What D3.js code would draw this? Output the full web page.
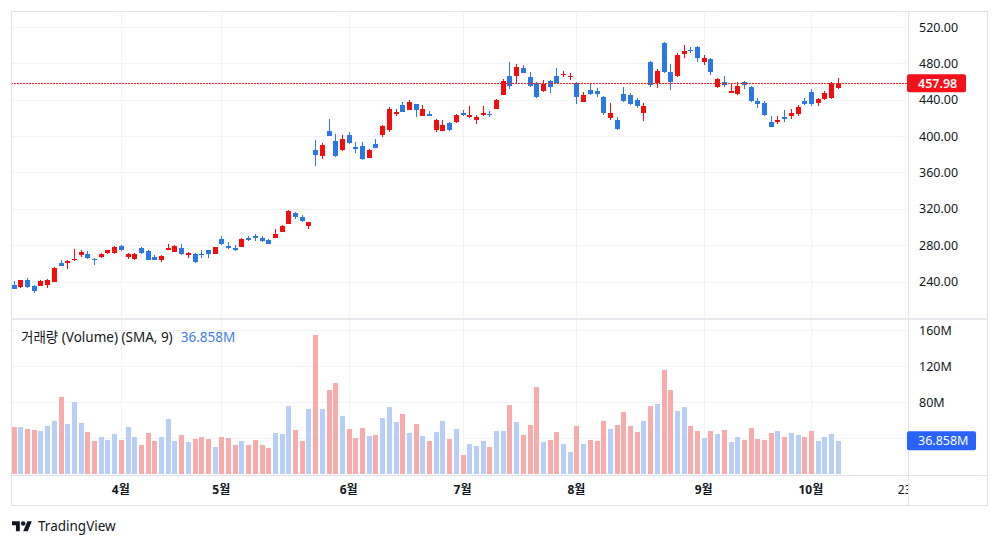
<!DOCTYPE html>
<html><head><meta charset="utf-8">
<script src="https://cdn.jsdelivr.net/npm/d3@7"></script>
<style>
html,body{margin:0;padding:0;background:#fff;}
svg{display:block;font-family:"Noto Sans","Noto Sans CJK KR",sans-serif;}
</style></head>
<body>
<svg id="chart" width="1000" height="545"></svg>
<script>
const opens  = [236.5,234,241.3,234.7,234.7,236.5,239.4,260,261.2,263.3,269.6,270.7,265,267,271.4,271.4,279.5,267,264.8,277.3,273.6,267,263.3,275,272.8,276.5,269.6,270.7,270.7,274.3,270.7,286.8,278.7,277.3,278,288.3,290.5,288.3,286,287.9,294.5,303.7,315.4,311,300.7,
385.1,377.8,405.7,394.7,384.4,400.9,388.1,388.8,376.3,391,401.7,406.4,424.8,434,429.2,435.1,421.9,424,407.2,405.7,414.5,415.6,425.5,421.1,417.5,423,424.8,430.3,445.1,466,466,474.5,464.6,458.7,449.9,460.9,466,466.8,464.6,458.7,437.8,450.6,449.9,443.3,419.4,417.6,
446.2,445.1,439.6,425.6,481.8,458.7,502.8,470.8,466,490.3,494.7,498.4,481.8,484.4,454.3,459.8,446.9,446.2,459.8,454.3,438.9,435.9,415.7,415.7,420.5,422,424.2,438.9,448.8,436.7,440.3,441.4,452.5];
const highs  = [240.5,242,244.2,235.8,241.3,242.8,256,263.3,264.2,275.4,275,273.2,265.5,271.4,275,278.7,280.6,271.4,271.4,278,274.3,268.8,268.8,280.9,280.2,280.9,272.5,271.4,274.3,275,278,289.7,283.5,280,287.5,289.7,292,289.7,286.8,298.2,301.8,318.4,316.2,312.9,305.8,
395.4,392.5,419.3,402.8,400.9,404.6,393.6,393.6,386.2,396.5,412.7,432.1,430.3,437.7,439.5,435.8,434,427.7,419.3,417.5,415.6,424.8,429.2,432.9,422.9,432.9,427.4,440.5,462.4,481.8,479.3,478.2,470.8,459.8,461.6,461.6,474.5,471.9,469,459.8,448.8,458,452.4,444,435.9,421.2,
453.6,447.7,441.4,435.9,482.9,473.4,503.9,479.3,491.8,500.2,497.6,499.1,489.2,485.5,463.5,466,458.7,459.8,460.5,455,441.4,438.9,421.9,421.9,428.6,429.3,434.1,441.4,451.4,441.4,449.9,459.8,463.5];
const lows   = [231.4,233.3,233.3,227.8,234.7,233.3,239.4,256.7,254.3,262.5,267,265.1,258.5,266.2,270.7,270.7,273.2,265.1,264,270.7,263.3,263.3,261.5,274.3,272,268.8,266.2,260.4,266.2,266.2,270.7,280.6,275.3,274,278,284.6,284.6,283.5,280.9,287.9,294.1,303,309.2,305.5,298.2,
366.8,375.2,399.8,377,383.7,391.8,381.5,374.1,376.3,386.6,399.1,405,422.2,426.6,428.5,421.1,421.9,421.9,404.6,405.7,405.7,414.5,422.2,420.3,413.8,421.9,421.1,429.9,445.1,451.4,458,469,453.6,441.4,448.8,446.9,458,464.6,461.6,435.2,437.8,445.1,443.3,423.1,417.8,406.5,
437.8,434.1,430.4,416.8,454.3,452.5,469.7,450.6,464.6,485.5,491,481.8,478.2,467.1,452.5,453.6,446.9,445.1,451.4,437.8,430.4,421.9,409.5,413.1,415.7,418.3,422,434.1,433,433,439.2,440.3,451.4];
const closes = [232.1,241.3,234,229.2,240.5,242,254.9,256.7,262.2,265.1,272.5,266.2,263.5,269.9,274.3,278,274.3,270,270.7,271.4,264,264,267.7,277.3,279.5,269.9,271.4,261.1,269.6,270.7,277.6,280.9,277.2,275,286.8,285.4,287.5,284.6,281.6,292.7,301.1,317.3,311,306.6,305.1,
378.9,389.9,399.8,377.8,397.3,392.5,385.9,374.9,385.1,387.3,410.9,430.3,426.3,426.6,437.7,429.2,430.3,421.9,418.2,412,407.2,423,423,423,421.1,425.5,423.3,439.5,460.5,455,475.6,469.7,455,442.5,457.2,454.3,458.7,468.2,466,443.3,445.1,446.2,446.2,425.6,424.9,407.3,
438.9,435.2,433,433,456.1,471.9,470.8,459.8,489.2,494,493.2,485.5,485.5,470.8,462.4,456.1,449.5,455,456.1,438.9,435.2,423,410.2,417.6,419,425.6,432.3,435.2,435.2,440.3,447.7,458.7,457.98];
const volumes = [51.9,51.9,50.4,48.5,48.1,53.3,59.3,85.2,55.2,80,57,46.3,36.3,40.7,37.4,44.1,37.4,52.2,40.7,32.6,45.2,36.3,40.7,61.1,36.3,43.3,35.2,38.5,41.5,38.5,29.6,41.5,39.6,32.6,36.7,32.6,37.8,32.6,28.9,45.6,44.4,75.2,48.5,36.3,72.2,
154.4,72.2,93.3,101.1,64.1,49.6,39.6,51.5,42.2,43.3,62.2,74.1,57.4,66.3,45.6,55.2,42.2,36.3,46.3,59.3,38.5,50.4,20.7,33.3,31.5,36.3,30.4,48.1,48.1,77,57.4,43.3,54.1,97,35.6,37.4,46.3,33.3,24.4,53.3,33.3,37.4,36.3,59.3,50.4,54.4,
68.5,53.3,46.3,59.3,75.9,77.8,115.6,93.3,70,74.1,53.3,47.4,39.6,47.4,44.4,48.5,35.2,40.7,37.4,51.5,38.5,37.4,45.2,48.1,40.7,45.2,43.3,40.7,47.4,36.3,40.7,44.4,36.858];

const timeTickLabels = ["4월","5월","6월","7월","8월","9월","10월","23"];
const timeTickBars   = [16,31,50,67,84,103,119,133];
const timeTickMajor  = [true,true,true,true,true,true,true,false];
const priceTicks  = [240,280,320,360,400,440,480,520];
const volumeTicks = [40,80,120,160];
const volumeTickLabels = ["40M","80M","120M","160M"];
const lastPrice = 457.98;
const lastVolumeLabel = "36.858M";
const legendTitle = "거래량 (Volume) (SMA, 9)";

const svg = d3.select("#chart");
const W = 1000, H = 545;
const L = 11, R = 908, RR = 987, T = 11, PB = 318, VT = 320, VB = 475, B = 505;
const UP = "#f50d0d", DOWN = "#2a78e6";
const VUP = "#b7cff6", VDOWN = "#f8abab";
const GRID = "#f0f3fa", BORDER = "#e0e3eb", TXT = "#131722";

svg.append("rect").attr("width",W).attr("height",H).attr("fill","#fff");

const n = closes.length;
const x = d3.scaleLinear().domain([0, n-1]).range([13.6, 837.7]);
const y = d3.scaleLinear().domain([240, 520]).range([281.5, 27]);
const yv = d3.scaleLinear().domain([0, 160]).range([474, 330]);

const defs = svg.append("defs");
defs.append("clipPath").attr("id","cpPrice").append("rect").attr("x",L).attr("y",T).attr("width",R-L).attr("height",PB-T);
defs.append("clipPath").attr("id","cpVol").append("rect").attr("x",L).attr("y",VT).attr("width",R-L).attr("height",VB-VT);
defs.append("clipPath").attr("id","cpTime").append("rect").attr("x",L).attr("y",VB).attr("width",R-L).attr("height",B-VB);

// grid
const grid = svg.append("g").attr("shape-rendering","crispEdges");
grid.selectAll("line.hp").data(priceTicks).join("line")
  .attr("x1",L).attr("x2",R).attr("y1",d=>Math.round(y(d))+0.5).attr("y2",d=>Math.round(y(d))+0.5)
  .attr("stroke",GRID);
grid.selectAll("line.hv").data(volumeTicks).join("line")
  .attr("x1",L).attr("x2",R).attr("y1",d=>Math.round(yv(d))+0.5).attr("y2",d=>Math.round(yv(d))+0.5)
  .attr("stroke",GRID);
const vTicks = timeTickBars.filter(b => x(b) < R);
grid.selectAll("line.vp").data(vTicks).join("line")
  .attr("x1",d=>Math.round(x(d))+0.5).attr("x2",d=>Math.round(x(d))+0.5).attr("y1",T).attr("y2",VB)
  .attr("stroke",GRID);

// candles
const cg = svg.append("g").attr("clip-path","url(#cpPrice)").attr("shape-rendering","crispEdges");
const idx = d3.range(n);
cg.selectAll("rect.wick").data(idx).join("rect")
  .attr("x",i=>Math.round(x(i)))
  .attr("width",1)
  .attr("y",i=>y(highs[i]))
  .attr("height",i=>Math.max(1, y(lows[i]) - y(highs[i])))
  .attr("fill",i=>closes[i]>=opens[i]?UP:DOWN);
cg.selectAll("rect.body").data(idx).join("rect")
  .attr("x",i=>Math.round(x(i))-2)
  .attr("width",5)
  .attr("y",i=>y(Math.max(opens[i],closes[i])))
  .attr("height",i=>Math.max(1.2, Math.abs(y(opens[i])-y(closes[i]))))
  .attr("fill",i=>closes[i]>=opens[i]?UP:DOWN);

// last price line (dotted red)
const lpy = Math.round(y(lastPrice));
svg.append("g").selectAll("rect").data(d3.range(L, R, 3)).join("rect")
  .attr("x",d=>d).attr("y",lpy).attr("width",2).attr("height",1)
  .attr("fill","#ff1a1a").attr("shape-rendering","crispEdges");

// volume
const vg = svg.append("g").attr("clip-path","url(#cpVol)").attr("shape-rendering","crispEdges");
vg.selectAll("rect").data(idx).join("rect")
  .attr("x",i=>Math.round(x(i))-2)
  .attr("width",5)
  .attr("y",i=>yv(volumes[i]))
  .attr("height",i=>yv(0)-yv(volumes[i]))
  .attr("fill",i=>closes[i]>=opens[i]?VUP:VDOWN);

// borders
const bd = svg.append("g").attr("shape-rendering","crispEdges");
bd.append("rect").attr("x",L+0.5).attr("y",T+0.5).attr("width",RR-L).attr("height",B-T).attr("fill","none").attr("stroke",BORDER);
bd.append("line").attr("x1",R+0.5).attr("x2",R+0.5).attr("y1",T).attr("y2",B).attr("stroke",BORDER);
bd.append("rect").attr("x",L).attr("y",PB).attr("width",RR-L).attr("height",2).attr("fill","#e6e8ee");
bd.append("line").attr("x1",L).attr("x2",RR).attr("y1",VB+0.5).attr("y2",VB+0.5).attr("stroke",BORDER);

// price axis labels
const ax = svg.append("g").attr("font-size",12.5).attr("fill",TXT);
ax.selectAll("text.p").data(priceTicks).join("text")
  .attr("x",919).attr("y",d=>y(d)).attr("dy","0.36em").text(d=>d3.format(".2f")(d));
ax.selectAll("text.v").data(volumeTicks.slice(1)).join("text")
  .attr("x",919).attr("y",d=>yv(d)).attr("dy","0.36em").text((d,i)=>volumeTickLabels[i+1]);

// last price label
const ly = y(lastPrice);
svg.append("rect").attr("x",907).attr("y",ly-9).attr("width",59).attr("height",18).attr("rx",2).attr("fill","#f5101a");
svg.append("text").attr("x",918).attr("y",ly).attr("dy","0.36em").attr("font-size",12.5).attr("font-weight",600)
  .attr("fill","#fff").text(d3.format(".2f")(lastPrice));

// last volume label
const lv = yv(volumes[n-1]);
svg.append("rect").attr("x",907).attr("y",lv-9.5).attr("width",69).attr("height",19).attr("rx",2).attr("fill","#2962ff");
svg.append("text").attr("x",918).attr("y",lv).attr("dy","0.36em").attr("font-size",12.5)
  .attr("fill","#fff").text(lastVolumeLabel);

// legend
const lg = svg.append("text").attr("x",21).attr("y",337).attr("dy","0.36em").attr("font-size",13.5).attr("fill",TXT);
lg.append("tspan").text(legendTitle);
lg.append("tspan").attr("dx",8).attr("fill","#3a7fe6").text(lastVolumeLabel);

// time axis labels
svg.append("g").attr("clip-path","url(#cpTime)").selectAll("text").data(timeTickLabels).join("text")
  .attr("x",(d,i)=>x(timeTickBars[i])).attr("y",490).attr("dy","0.36em")
  .attr("text-anchor","middle").attr("font-size",12)
  .attr("font-weight",(d,i)=>timeTickMajor[i]?700:400)
  .attr("fill",TXT).text(d=>d);

// TradingView logo
const logo = svg.append("g").attr("transform","translate(12,519) scale(0.56)").attr("fill",TXT);
logo.append("path").attr("d","M14 22H7V11H0V4h14v18zM28 22h-8l7.5-18h8L28 22z");
logo.append("circle").attr("cx",20).attr("cy",8).attr("r",4);
svg.append("text").attr("x",38).attr("y",526).attr("dy","0.36em").attr("font-size",13.5).attr("fill",TXT).text("TradingView");
</script>
</body></html>
